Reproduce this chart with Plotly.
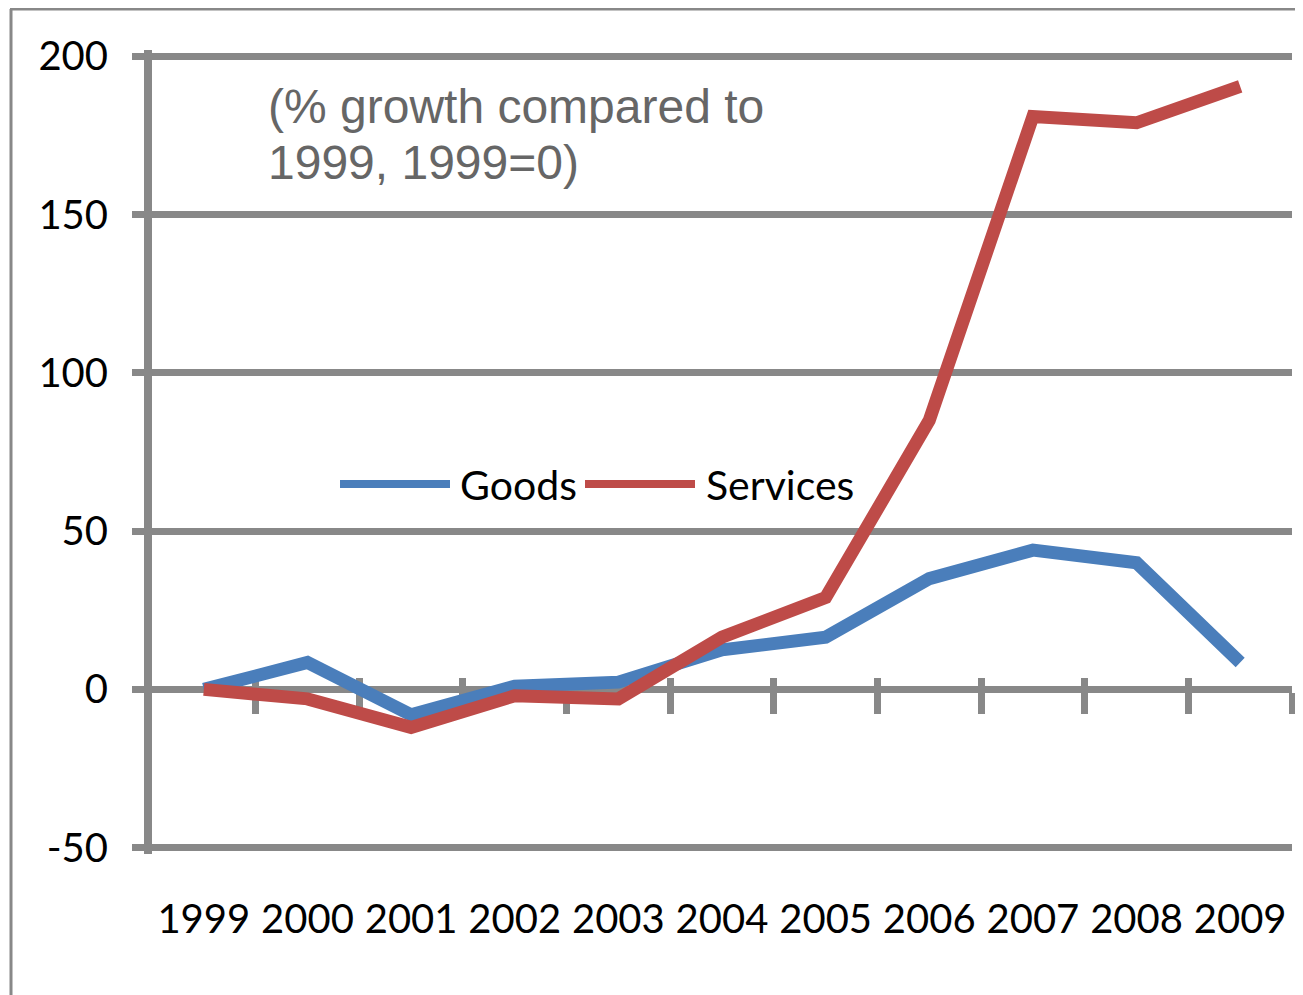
import plotly.graph_objects as go

years = ["1999", "2000", "2001", "2002", "2003", "2004", "2005", "2006", "2007", "2008", "2009"]
goods = [0, 8.5, -8, 1, 2.3, 12.5, 16.5, 35, 44, 40, 8.5]
services = [0, -3, -12, -2, -3, 16.5, 29, 85, 181, 179, 190.5]
y_ticks = [-50, 0, 50, 100, 150, 200]
y_tick_text = ["-50", "0", "50", "100", "150", "200"]

GRID = "#888888"
BLUE = "#4A7EBB"
RED = "#BE4B48"
FONT = "Lato"

xs = list(range(len(years)))
boundaries = [i + 0.5 for i in xs]

fig = go.Figure()
fig.add_trace(go.Scatter(x=xs, y=goods, mode="lines", name="Goods",
                         line=dict(color=BLUE, width=13), showlegend=False))
fig.add_trace(go.Scatter(x=xs, y=services, mode="lines", name="Services",
                         line=dict(color=RED, width=13), showlegend=False))
# helper traces so that the zero-line axes are drawn
fig.add_trace(go.Scatter(x=[None], y=[None], xaxis="x2", showlegend=False, hoverinfo="skip"))
fig.add_trace(go.Scatter(x=[None], y=[None], xaxis="x3", showlegend=False, hoverinfo="skip"))

ymin, ymax = -52, 202
zero_pos = (0 - ymin) / (ymax - ymin)

# the page body has an 8px margin, so the figure is sized/offset to compensate
FW, FH = 1295, 987
L, R, T, B = 144, 11, 42, 141
W, H = FW - L - R, FH - T - B
OFF = 8
def px(v):
    return (v - OFF - L) / W
def py(v):
    return (FH - B - (v - OFF)) / H

fig.update_layout(
    width=FW, height=FH,
    margin=dict(l=L, r=R, t=T, b=B),
    paper_bgcolor="white", plot_bgcolor="white",
    showlegend=False,
    font=dict(family=FONT, size=40, color="black"),
    xaxis=dict(range=[-0.5, 10.5], tickvals=xs, ticktext=years, showgrid=False,
               zeroline=False, showline=False, ticks="", ticklabelstandoff=38,
               tickfont=dict(family=FONT, size=40, color="black"), layer="below traces",
               automargin=False),
    xaxis2=dict(range=[-0.5, 10.5], overlaying="x", anchor="free", position=zero_pos,
                tickvals=boundaries, showticklabels=False, ticks="outside", ticklen=21,
                tickwidth=7, tickcolor=GRID, showline=True, linecolor=GRID, linewidth=7,
                showgrid=False, zeroline=False, layer="below traces", automargin=False),
    xaxis3=dict(range=[-0.5, 10.5], overlaying="x", anchor="free", position=zero_pos,
                tickvals=boundaries, showticklabels=False, ticks="inside", ticklen=11,
                tickwidth=7, tickcolor=GRID, showline=False,
                showgrid=False, zeroline=False, layer="below traces", automargin=False),
    yaxis=dict(range=[ymin, ymax], tickvals=y_ticks, ticktext=y_tick_text, showgrid=True,
               gridcolor=GRID, gridwidth=7, zeroline=False, showline=True, linecolor=GRID,
               linewidth=8, ticks="outside", ticklen=12, tickwidth=7, tickcolor=GRID,
               ticklabelstandoff=16, tickfont=dict(family=FONT, size=40, color="black"),
               layer="below traces", automargin=False),
)

# explanatory note (two lines)
for line, yc in [("(% growth compared to", 106), ("1999, 1999=0)", 162)]:
    fig.add_annotation(xref="paper", yref="paper", x=px(266), y=py(yc), xanchor="left",
                       yanchor="middle", align="left", showarrow=False, text=line,
                       font=dict(family="Liberation Sans", size=48, color="#666666"))

# legend drawn manually (long line samples)
ly = py(484)
for name, color, x0, x1, tx in [("Goods", BLUE, 340, 450, 458), ("Services", RED, 585, 695, 704)]:
    fig.add_shape(type="line", xref="paper", yref="paper", x0=px(x0), x1=px(x1), y0=ly, y1=ly,
                  line=dict(color=color, width=8))
    fig.add_annotation(xref="paper", yref="paper", x=px(tx), y=ly, xanchor="left",
                       yanchor="middle", showarrow=False, text=name,
                       font=dict(family=FONT, size=41, color="black"))

# outer chart frame (top and left edges visible)
fig.add_shape(type="line", xref="paper", yref="paper", x0=px(10), x1=px(1310), y0=py(9), y1=py(9),
              line=dict(color=GRID, width=3))
fig.add_shape(type="line", xref="paper", yref="paper", x0=px(11), x1=px(11), y0=py(9), y1=py(1000),
              line=dict(color=GRID, width=3))

fig.write_html("out.html")
